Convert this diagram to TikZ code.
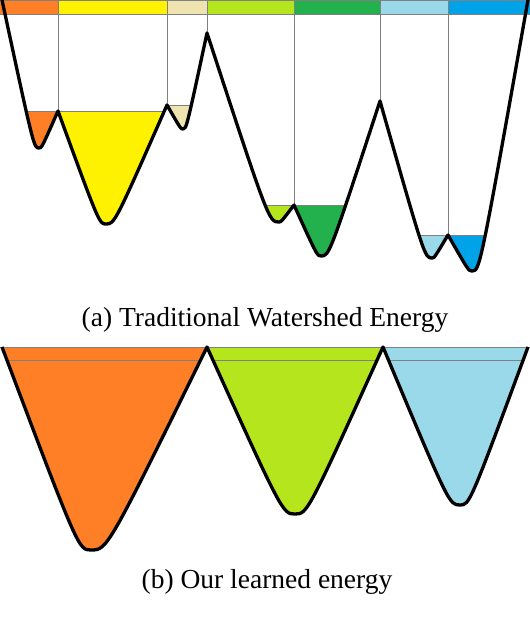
\documentclass[tikz,border=0pt]{standalone}
\usepackage{fontspec}
\setmainfont{Liberation Serif}
\usetikzlibrary{calc}

\definecolor{wsorange}{HTML}{FF7F27}
\definecolor{wsyellow}{HTML}{FFF200}
\definecolor{wsbeige}{HTML}{EFE4B0}
\definecolor{wslime}{HTML}{B5E61D}
\definecolor{wsgreen}{HTML}{22B14C}
\definecolor{wssky}{HTML}{99D9EA}
\definecolor{wsblue}{HTML}{00A2E8}
\definecolor{wsgray}{HTML}{808080}

\tikzset{
  energy/.style={line width=3.3pt, line join=round},
  level/.style={wsgray, line width=1pt},
  caption/.style={font=\fontsize{27.5}{33}\selectfont, anchor=base, inner sep=0pt},
}

% peak -> minimum -> peak, rounded only near the bottom
\newcommand{\valleyto}[3]{.. controls ($(#1 |- #2)!.86!(#2)$) .. (#2) .. controls ($(#3 |- #2)!.86!(#2)$) .. (#3)}

\begin{document}
\begin{tikzpicture}[x=1pt, y=-1pt]
  \useasboundingbox (0,0) rectangle (530,632);
  \coordinate (sky) at (0,-20);
  \coordinate (bar) at (0,0);

  % (a) traditional watershed
  \coordinate (p0) at (2,0);
  \coordinate (m1) at (39,148);
  \coordinate (p1) at (58,111);
  \coordinate (m2) at (106,224);
  \coordinate (p2) at (167,105);
  \coordinate (m3) at (183,129);
  \coordinate (p3) at (207,33);
  \coordinate (m4) at (279,222);
  \coordinate (p4) at (294,205);
  \coordinate (m5) at (321,256);
  \coordinate (p5) at (380,101);
  \coordinate (m6) at (432,258);
  \coordinate (p6) at (448,235);
  \coordinate (m7) at (472,271);
  \coordinate (p7) at (528,0);

  \foreach \xa/\xb/\col in {0/58/wsorange, 58/167/wsyellow, 167/207/wsbeige, 207/294/wslime, 294/380/wsgreen, 380/448/wssky, 448/530/wsblue}
    \fill[\col] (\xa,0) rectangle (\xb,14);
  \draw[level] (0,0.5) -- (530,0.5);
  \draw[level] (0,14) -- (530,14);
  \foreach \p in {p1,p2,p3,p4,p5,p6}
    \draw[level] (\p |- bar) -- (\p);

  \foreach \ka/\kb/\kc/\lev/\col in {p0/m1/p1/111/wsorange, p1/m2/p2/111/wsyellow, p2/m3/p3/105/wsbeige, p3/m4/p4/205/wslime, p4/m5/p5/205/wsgreen, p5/m6/p6/235/wssky, p6/m7/p7/235/wsblue}{
    \begin{scope}
      \clip (\ka) \valleyto{\ka}{\kb}{\kc} -- (\kc |- sky) -- (\ka |- sky) -- cycle;
      \fill[\col] (0,\lev) rectangle (530,300);
      \draw[level] (0,\lev) -- (530,\lev);
    \end{scope}
  }

  \draw[energy] (p0) \valleyto{p0}{m1}{p1} \valleyto{p1}{m2}{p2} \valleyto{p2}{m3}{p3}
    \valleyto{p3}{m4}{p4} \valleyto{p4}{m5}{p5} \valleyto{p5}{m6}{p6} \valleyto{p6}{m7}{p7};

  \node[caption] (capA) at (265,326) {(a) Traditional Watershed Energy};

  % (b) learned energy
  \coordinate (q0) at (2,347);
  \coordinate (n1) at (91,550);
  \coordinate (q1) at (207,347);
  \coordinate (n2) at (295,514);
  \coordinate (q2) at (383,347);
  \coordinate (n3) at (460,505);
  \coordinate (q3) at (528,347);

  \foreach \ka/\kb/\kc/\col in {q0/n1/q1/wsorange, q1/n2/q2/wslime, q2/n3/q3/wssky}{
    \begin{scope}
      \clip (\ka) \valleyto{\ka}{\kb}{\kc} -- (\kc |- sky) -- (\ka |- sky) -- cycle;
      \fill[\col] (0,347) rectangle (530,640);
      \draw[level] (0,360) -- (530,360);
    \end{scope}
  }
  \draw[level] (0,347) -- (530,347);

  \draw[energy] (q0) \valleyto{q0}{n1}{q1} \valleyto{q1}{n2}{q2} \valleyto{q2}{n3}{q3};

  \node[caption] (capB) at (267,588) {(b) Our learned energy};
\end{tikzpicture}
\end{document}
